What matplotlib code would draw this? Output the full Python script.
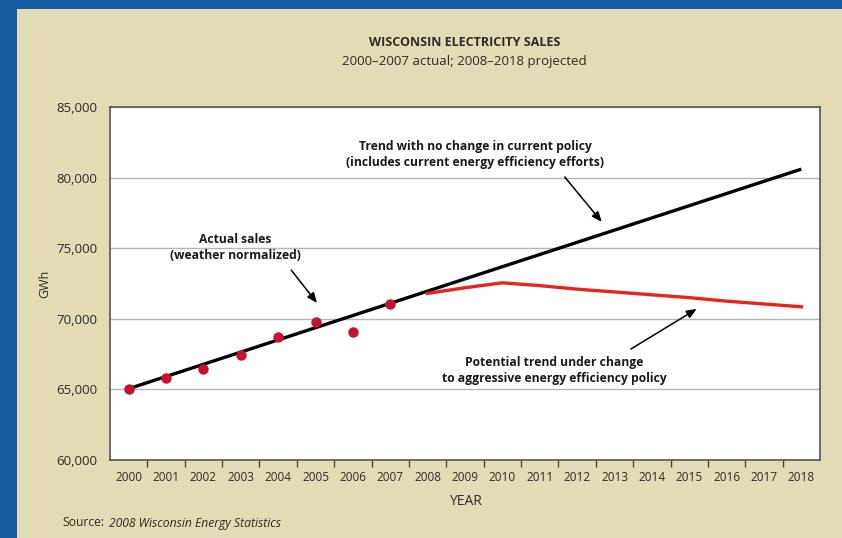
import matplotlib.pyplot as plt
import numpy as np
from matplotlib.patches import Rectangle
from matplotlib.ticker import FuncFormatter

plt.rcParams['font.family'] = ['Open Sans', 'DejaVu Sans']

# actual sales (weather normalized), GWh
years_actual = [2000, 2001, 2002, 2003, 2004, 2005, 2006, 2007]
sales_actual = [65050, 65800, 66450, 67450, 68700, 69750, 69050, 71050]

# trend with no change in current policy
trend_years = [2000, 2018]
trend_values = [65050, 80600]

# potential trend with aggressive efficiency policy
eff_years = [2008, 2009, 2010, 2011, 2012, 2013, 2014, 2015, 2016, 2017, 2018]
eff_values = [71800, 72200, 72550, 72350, 72100, 71900, 71700, 71500, 71250, 71050, 70850]

year_labels = [str(y) for y in range(2000, 2019)]
y_ticks = [60000, 65000, 70000, 75000, 80000, 85000]

blue = '#145b9f'
beige = '#e2dbb6'
dark = '#2b2b2b'

fig = plt.figure(figsize=(8.42, 5.38), dpi=100, facecolor=blue)
# beige panel behind everything
fig.patches.append(Rectangle((17 / 842, 0), 1, 1 - 9 / 538, transform=fig.transFigure,
                             facecolor=beige, edgecolor='none', zorder=-10))

ax = fig.add_axes([110 / 842, 1 - 460 / 538, 710 / 842, 353 / 538])
ax.set_facecolor('white')

ax.plot(trend_years, trend_values, color='black', lw=2.4, solid_capstyle='butt', zorder=3)
ax.plot(eff_years, eff_values, color='#e8231c', lw=2.4, zorder=4)
ax.plot(years_actual, sales_actual, 'o', color='#c41230', ms=7.5, mec='none', zorder=5)

ax.set_xlim(1999.5, 2018.5)
ax.set_ylim(60000, 85000)
ax.set_yticks(y_ticks)
ax.yaxis.set_major_formatter(FuncFormatter(lambda v, p: f'{int(v):,}'))
ax.tick_params(axis='y', length=0, pad=9, labelsize=9.5, labelcolor=dark)
ax.set_xticks(range(2000, 2019))
ax.set_xticklabels(year_labels)
ax.set_xticks(np.arange(2000.5, 2018, 1), minor=True)
ax.tick_params(axis='x', which='major', length=0, pad=8, labelsize=8.5, labelcolor=dark)
ax.tick_params(axis='x', which='minor', length=5, width=1, color='#444444', direction='out')

ax.grid(axis='y', color='#b5b5b5', lw=1)
ax.set_axisbelow(True)
for s in ax.spines.values():
    s.set_color('#555555')
    s.set_linewidth(1.2)

ax.set_ylabel('GWh', fontsize=9, color=dark, labelpad=4)
ax.set_xlabel('YEAR', fontsize=10, color=dark, labelpad=7)

# annotations
kw = dict(ha='center', va='center', fontsize=8.7, fontweight='bold', color='#1a1a1a',
          linespacing=1.3)
ax.text(2002.85, 75050, 'Actual sales\n(weather normalized)', **kw)
ax.text(2009.27, 81650, 'Trend with no change in current policy\n(includes current energy efficiency efforts)', **kw)
ax.text(2011.4, 66350, 'Potential trend under change\nto aggressive energy efficiency policy', **kw)

arrow = dict(arrowstyle='-|>,head_length=0.6,head_width=0.25', color='black', lw=1.1,
             shrinkA=0, shrinkB=0)
ax.annotate('', xy=(2005.04, 71120), xytext=(2004.35, 73450), arrowprops=arrow)
ax.annotate('', xy=(2012.66, 76860), xytext=(2011.67, 80040), arrowprops=arrow)
ax.annotate('', xy=(2015.2, 70700), xytext=(2013.44, 67860), arrowprops=arrow)

# title and source
fig.text(465 / 842, 1 - 42 / 538, 'WISCONSIN ELECTRICITY SALES', ha='center', va='center',
         fontsize=9, fontweight='bold', color=dark)
fig.text(464 / 842, 1 - 61 / 538, '2000\u20132007 actual; 2008\u20132018 projected', ha='center',
         va='center', fontsize=9.5, color=dark)
fig.text(62 / 842, 1 - 523 / 538, 'Source:', ha='left', va='center', fontsize=8.7, color=dark)
fig.text(109 / 842, 1 - 523 / 538, '2008 Wisconsin Energy Statistics', ha='left', va='center',
         fontsize=8.7, style='italic', color=dark)

fig.savefig('out.png', dpi=100, facecolor=blue)
